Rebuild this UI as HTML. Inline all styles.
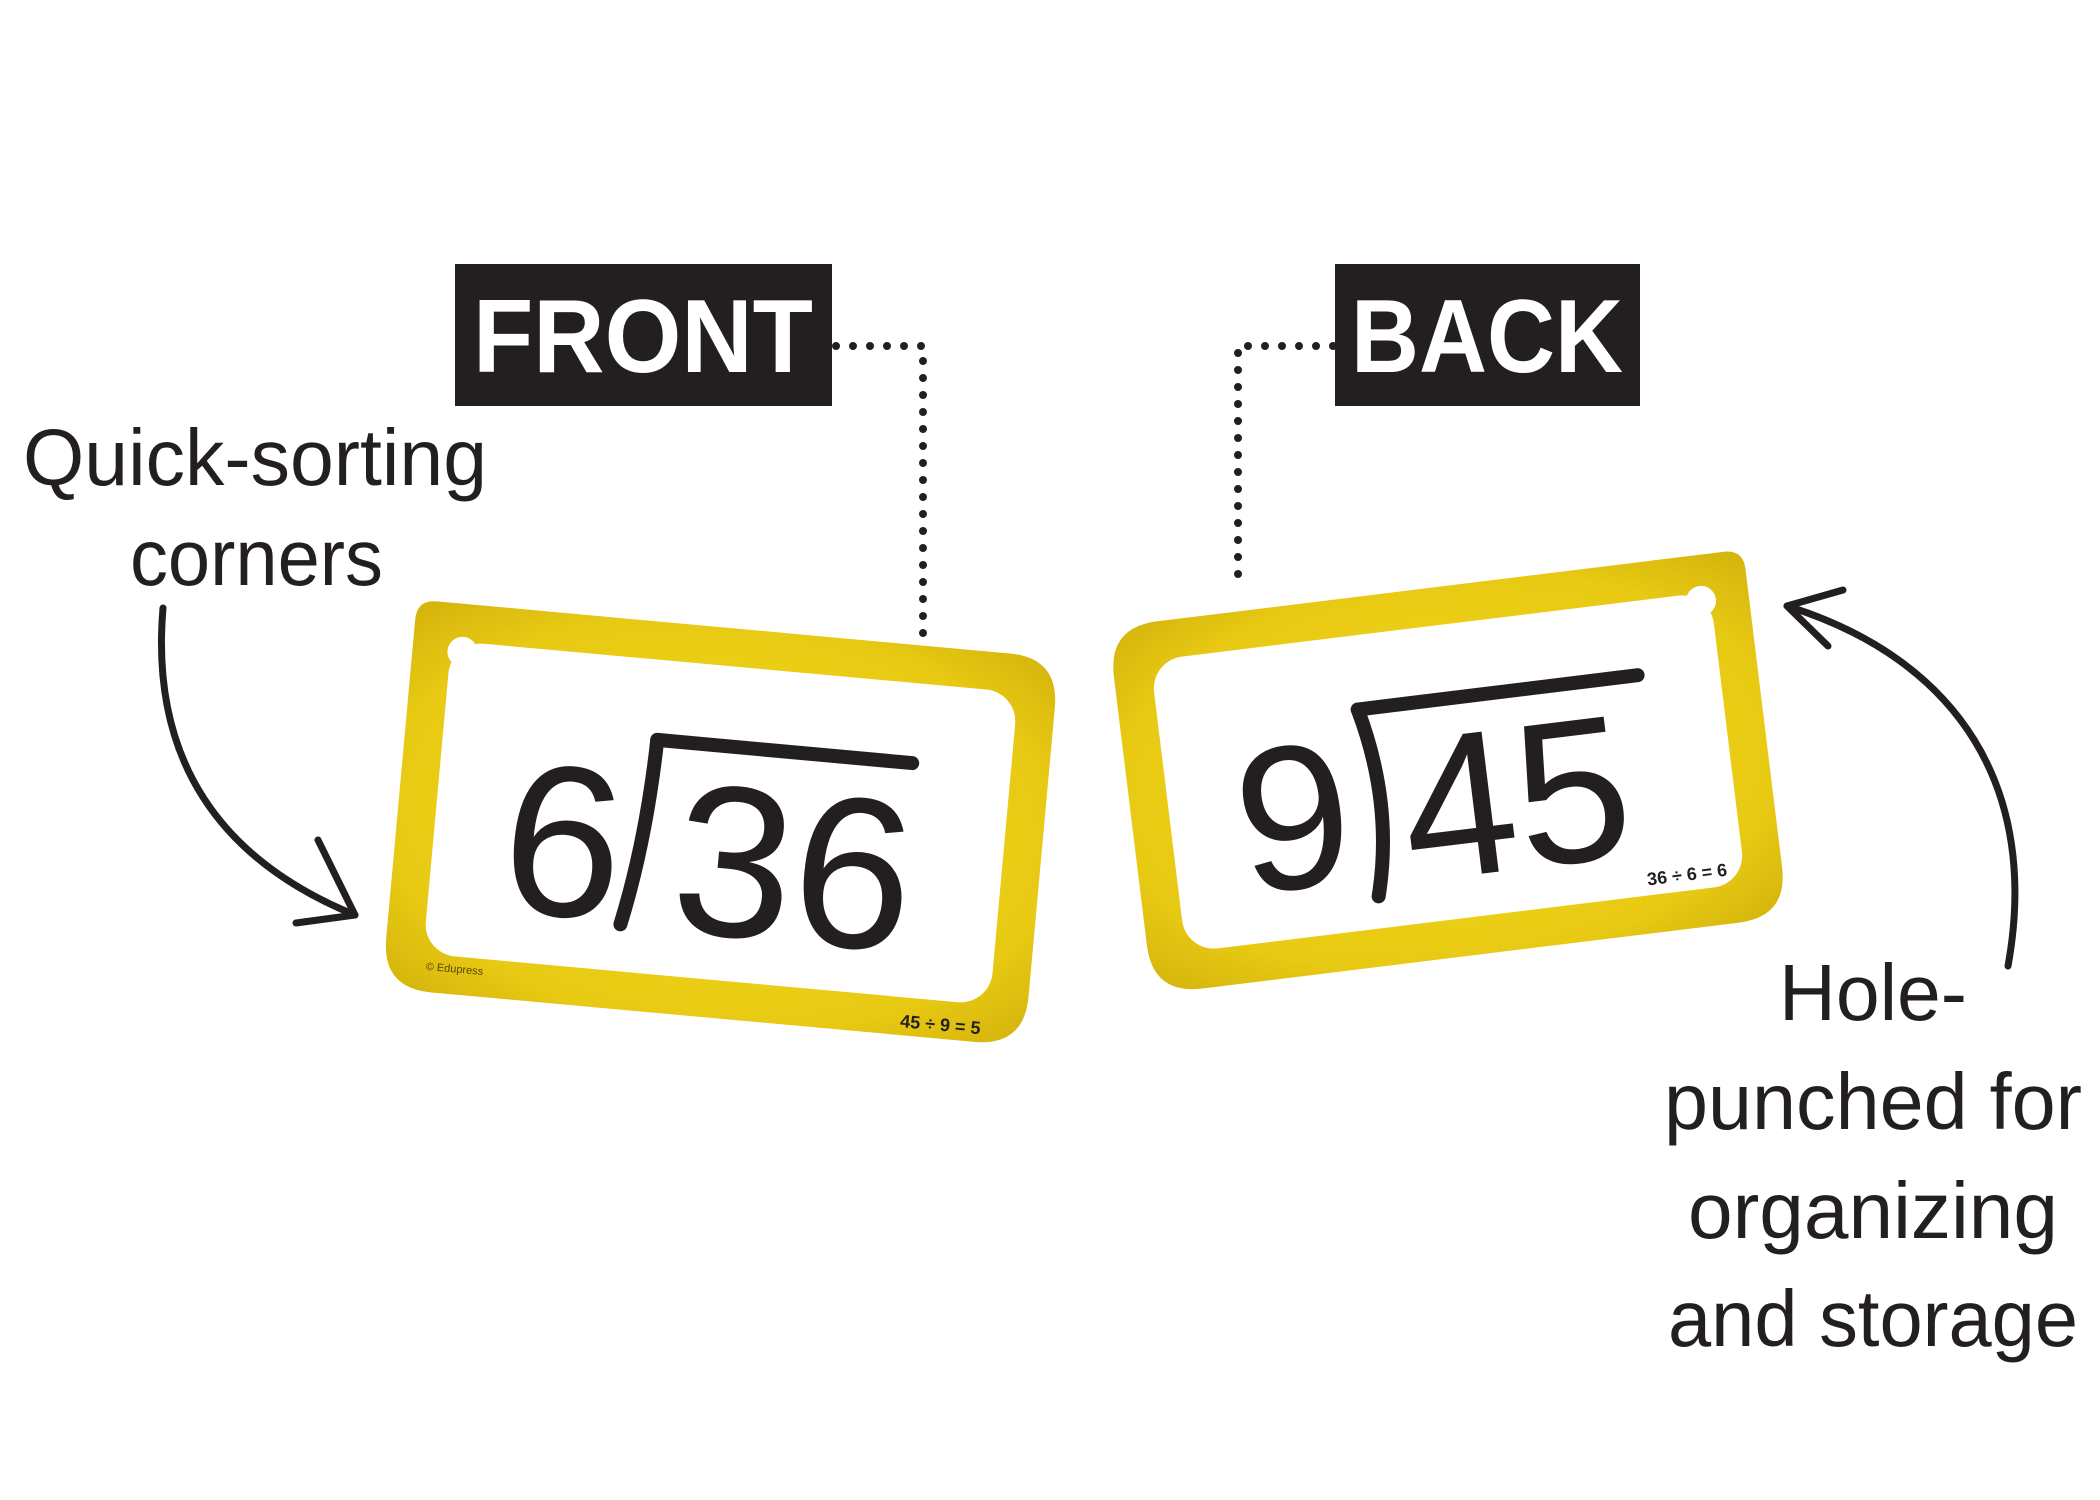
<!DOCTYPE html>
<html><head><meta charset="utf-8"><style>
html,body{margin:0;padding:0;background:#fff;}
svg{display:block;}
</style></head><body>
<svg width="2100" height="1500" viewBox="0 0 2100 1500" xmlns="http://www.w3.org/2000/svg">
<defs>
<radialGradient id="yg" cx="50%" cy="50%" r="70%">
<stop offset="0" stop-color="#f4dc1c"/>
<stop offset="0.75" stop-color="#e8c913"/>
<stop offset="1" stop-color="#d4b30c"/>
</radialGradient>
</defs>
<rect width="2100" height="1500" fill="#fff"/>

<rect x="455" y="264" width="377" height="142" fill="#231f20"/>
<text x="643" y="372" text-anchor="middle" font-family="Liberation Sans, sans-serif" font-weight="bold" font-size="104" fill="#fff" textLength="340" lengthAdjust="spacingAndGlyphs">FRONT</text>
<rect x="1335" y="264" width="305" height="142" fill="#231f20"/>
<text x="1487" y="372" text-anchor="middle" font-family="Liberation Sans, sans-serif" font-weight="bold" font-size="104" fill="#fff" textLength="272" lengthAdjust="spacingAndGlyphs">BACK</text>

<g stroke="#231f20" stroke-width="8" stroke-linecap="round" stroke-dasharray="0 17" fill="none">
<path d="M836 346 H923 V636"/>
<path d="M1333 346 H1238 V590"/>
</g>

<g font-family="Liberation Sans, sans-serif" font-size="80" fill="#231f20">
<text x="23" y="485" textLength="464" lengthAdjust="spacingAndGlyphs">Quick-sorting</text>
<text x="130" y="585" textLength="253" lengthAdjust="spacingAndGlyphs">corners</text>
</g>
<g font-family="Liberation Sans, sans-serif" font-size="80" fill="#231f20" text-anchor="middle">
<text x="1873" y="1020" textLength="188" lengthAdjust="spacingAndGlyphs">Hole-</text>
<text x="1873" y="1129" textLength="418" lengthAdjust="spacingAndGlyphs">punched for</text>
<text x="1873" y="1238" textLength="370" lengthAdjust="spacingAndGlyphs">organizing</text>
<text x="1873" y="1346" textLength="410" lengthAdjust="spacingAndGlyphs">and storage</text>
</g>

<g stroke="#231f20" stroke-width="7" stroke-linecap="round" stroke-linejoin="round" fill="none">
<path d="M163 608 C150 760 220 860 355 915"/>
<path d="M296 923 L355 915 L318 840"/>
<path d="M2008 966 C2040 790 1960 660 1787 606"/>
<path d="M1828 646 L1787 606 L1843 590"/>
</g>

<!-- front card -->
<g transform="translate(721,823) rotate(5.2) translate(-323,-195)">
<path d="M20 0 H595 Q645 0 645 50 V340 Q645 390 595 390 H50 Q0 390 0 340 V20 Q0 0 20 0 Z" fill="url(#yg)"/>
<rect x="38" y="38" width="569" height="314" rx="32" fill="#fff"/>
<circle cx="50" cy="48" r="15" fill="#fff"/>
<g fill="#231f20" font-family="Liberation Sans, sans-serif" font-size="215">
<text x="108" y="302">6</text>
<text x="280" y="307">36</text>
</g>
<path d="M252 118 Q250 220 232 305" stroke="#231f20" stroke-width="14" fill="none" stroke-linecap="round"/>
<path d="M252 118 H508" stroke="#231f20" stroke-width="14" fill="none" stroke-linecap="round"/>
<text x="42" y="368" font-family="Liberation Sans, sans-serif" font-size="11" fill="#5a4a00">© Edupress</text>
<text x="600" y="382" text-anchor="end" font-family="Liberation Sans, sans-serif" font-weight="bold" font-size="18" fill="#231f20">45 ÷ 9 = 5</text>
</g>

<!-- back card -->
<g transform="translate(1448,772) rotate(-7) translate(-320,-185)">
<path d="M50 0 H620 Q640 0 640 20 V320 Q640 370 590 370 H50 Q0 370 0 320 V50 Q0 0 50 0 Z" fill="url(#yg)"/>
<rect x="38" y="38" width="564" height="294" rx="32" fill="#fff"/>
<circle cx="592" cy="46" r="15" fill="#fff"/>
<g fill="#231f20" font-family="Liberation Sans, sans-serif" font-size="205">
<text x="104" y="282">9</text>
<text x="270" y="290">45</text>
</g>
<path d="M238 112 Q262 210 236 300" stroke="#231f20" stroke-width="14" fill="none" stroke-linecap="round"/>
<path d="M238 112 H520" stroke="#231f20" stroke-width="14" fill="none" stroke-linecap="round"/>
<text x="585" y="322" text-anchor="end" font-family="Liberation Sans, sans-serif" font-weight="bold" font-size="18" fill="#231f20">36 ÷ 6 = 6</text>
</g>
</svg>
</body></html>
